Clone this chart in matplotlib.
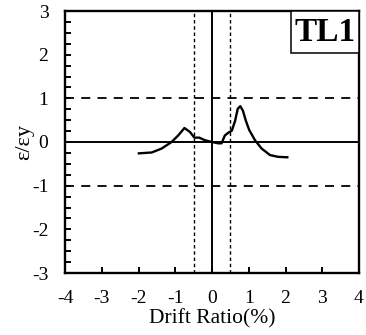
import matplotlib
matplotlib.use("Agg")
import matplotlib.pyplot as plt
from matplotlib.patches import Rectangle
from matplotlib.ticker import MultipleLocator

plt.rcParams["font.family"] = ["Liberation Serif", "DejaVu Serif"]
plt.rcParams["axes.unicode_minus"] = False

# Strain ratio vs drift ratio for gauge TL1
drift = [-1.99, -1.64, -1.37, -1.10, -0.92, -0.75, -0.60, -0.48, -0.35, -0.19,
         0.00, 0.17, 0.26, 0.35, 0.44, 0.54, 0.63, 0.70, 0.77, 0.84, 0.92,
         1.01, 1.17, 1.35, 1.58, 1.80, 2.05]
strain = [-0.26, -0.24, -0.15, 0.00, 0.15, 0.32, 0.23, 0.10, 0.10, 0.04,
          0.00, -0.03, -0.03, 0.15, 0.21, 0.26, 0.49, 0.76, 0.82, 0.72, 0.49,
          0.28, 0.04, -0.15, -0.30, -0.34, -0.35]
x_ticks = [-4, -3, -2, -1, 0, 1, 2, 3, 4]
y_ticks = [-3, -2, -1, 0, 1, 2, 3]
yield_level = 1.0
yield_drift = 0.5
label = "TL1"

fig = plt.figure(figsize=(3.66, 3.35), dpi=100)
ax = fig.add_axes([65 / 366, 1 - 273 / 335, 294 / 366, 262 / 335])

ax.axhline(0, color="black", lw=1.4, zorder=2)
ax.axvline(0, color="black", lw=1.4, zorder=2)
for s in (yield_level, -yield_level):
    ax.axhline(s, color="black", lw=1.3, ls=(0, (5, 4)), zorder=2)
for d in (yield_drift, -yield_drift):
    ax.axvline(d, color="black", lw=1.0, ls=(0, (2.5, 2)), zorder=2)

ax.plot(drift, strain, color="black", lw=1.7, zorder=3)

ax.set_xlim(-4, 4)
ax.set_ylim(-3, 3)
ax.set_xticks(x_ticks)
ax.set_yticks(y_ticks)
ax.set_xticklabels([str(v) for v in x_ticks])
ax.set_yticklabels([str(v) for v in y_ticks])
ax.yaxis.set_minor_locator(MultipleLocator(0.25))
ax.tick_params(axis="both", which="both", direction="in", length=4.5, width=1.4,
               labelsize=14, colors="black")
ax.tick_params(axis="x", which="both", top=False, pad=12)
ax.tick_params(axis="y", which="both", right=False, pad=12)
for sp in ax.spines.values():
    sp.set_linewidth(1.7)

ax.set_xlabel("Drift Ratio(%)", fontsize=15.5, labelpad=2)
ax.set_ylabel("ε/εy", fontsize=16, labelpad=-2)

# Gauge name in a box at the upper-right corner
ax.add_patch(Rectangle((0.769, 0.840), 0.231, 0.160, transform=ax.transAxes,
                       fc="white", ec="black", lw=1.1, zorder=5))
ax.text(0.8845, 0.918, label, transform=ax.transAxes, ha="center", va="center",
        fontsize=24, fontweight="bold", zorder=6)

fig.savefig("out.png", dpi=100)
